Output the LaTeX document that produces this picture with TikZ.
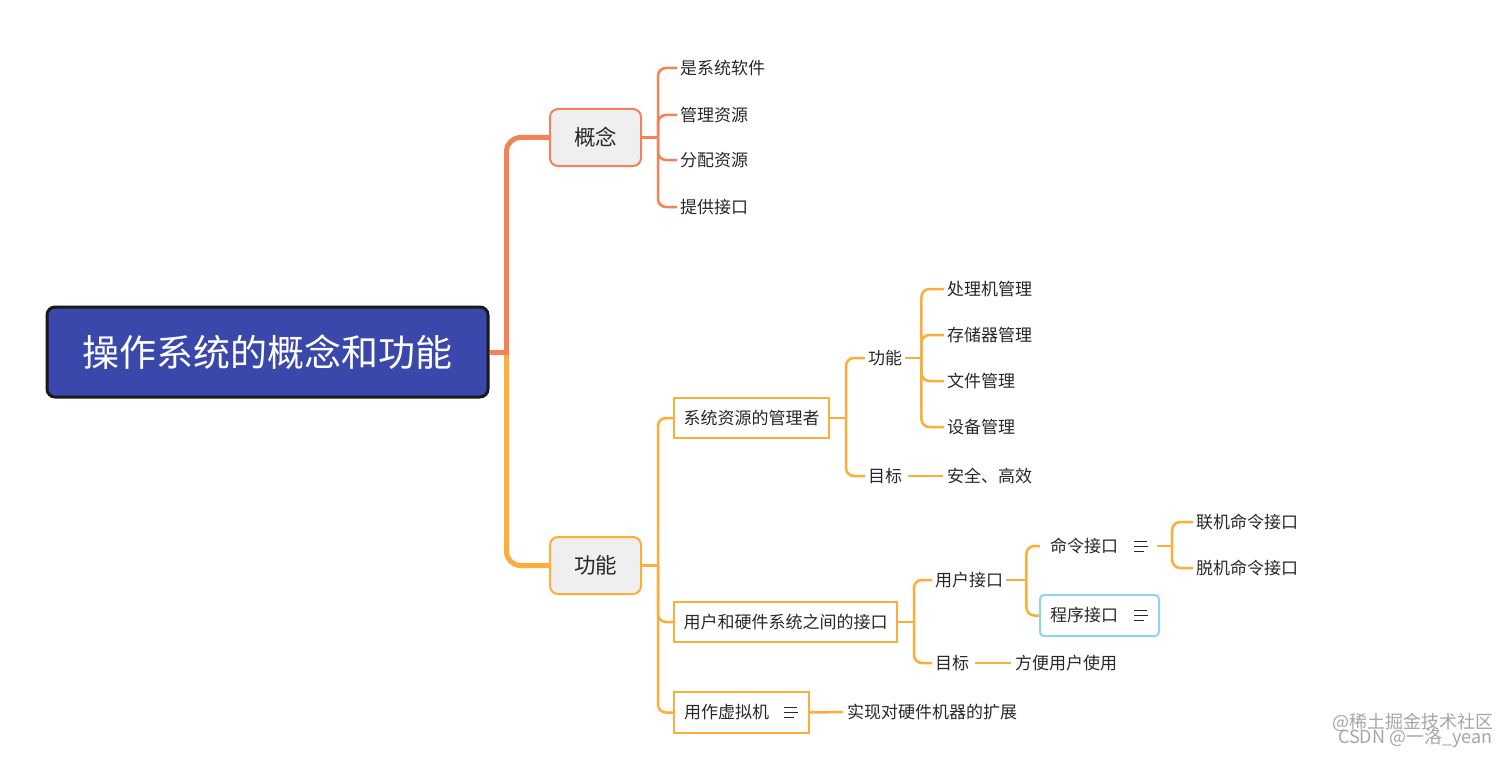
\documentclass[tikz,border=0pt]{standalone}
\usepackage{fontspec}
\setmainfont{Noto Sans CJK SC}
\definecolor{coral}{RGB}{244,129,88}
\definecolor{amber}{RGB}{252,173,58}
\definecolor{rootblue}{RGB}{57,72,170}
\definecolor{boxgray}{RGB}{239,239,239}
\definecolor{skyline}{RGB}{143,212,245}
\definecolor{ink}{RGB}{40,40,40}
\tikzset{
 rootbox/.style={draw=black!90, line width=3pt, fill=rootblue, rounded corners=8pt, text=white, minimum width=441pt, minimum height=90pt, inner sep=0pt, font=\fontsize{37}{42}\selectfont},
 mainbox/.style={fill=boxgray, line width=2pt, rounded corners=8pt, minimum width=91pt, minimum height=57pt, inner sep=0pt, text=ink, font=\fontsize{21.5}{24}\selectfont},
 subbox/.style={draw=amber, fill=white, line width=2pt, minimum height=40pt, inner sep=0pt, text=ink, font=\fontsize{17}{20}\selectfont},
 leaf/.style={anchor=west, inner sep=3pt, text=ink, font=\fontsize{17}{20}\selectfont},
 cline/.style={coral, line width=2.5pt, rounded corners=8pt},
 aline/.style={amber, line width=2.5pt, rounded corners=8pt},
 trunk/.style={line width=5pt, rounded corners=14pt},
 iconline/.style={line width=1.2pt, ink},
 watermark/.style={anchor=west, inner sep=0pt, text=black!35, font=\fontsize{18}{20}\selectfont},
 pics/menuicon/.style={code={\draw[iconline] (0,-5)--(13,-5) (0,0)--(14,0) (0,5)--(10,5);}},
}
\begin{document}
\begin{tikzpicture}[x=1pt,y=-1pt]
\useasboundingbox (0,0) rectangle (1512,757);
\fill[white] (0,0) rectangle (1512,757);

% nodes
\node[rootbox] (root) at (267.5,352) {操作系统的概念和功能};
\node[mainbox, draw=coral] (gn) at (595.5,137.5) {概念};
\node[mainbox, draw=amber] (fn) at (595.5,565.5) {功能};

\node[leaf] (c1) at (677,68) {是系统软件};
\node[leaf] (c2) at (677,115) {管理资源};
\node[leaf] (c3) at (677,160) {分配资源};
\node[leaf] (c4) at (677,207) {提供接口};

\node[subbox, minimum width=155pt] (mgr) at (751.5,418) {系统资源的管理者};
\node[subbox, minimum width=223pt] (itf) at (785.5,622) {用户和硬件系统之间的接口};
\node[subbox, minimum width=135pt, minimum height=41pt, text width=115pt, align=left] (vm) at (741.5,712.5) {用作虚拟机};
\pic at (784,712.5) {menuicon};

\node[leaf] (mf) at (865,358) {功能};
\node[leaf] (mg) at (865,476) {目标};
\node[leaf] (p1) at (944,289) {处理机管理};
\node[leaf] (p2) at (944,335) {存储器管理};
\node[leaf] (p3) at (944,381) {文件管理};
\node[leaf] (p4) at (944,427) {设备管理};
\node[leaf] (sf) at (944,476) {安全、高效};

\node[leaf] (ui) at (932,580) {用户接口};
\node[leaf] (ug) at (932,663) {目标};
\node[leaf] (uc) at (1012,663) {方便用户使用};

\node[minimum width=119pt, minimum height=41pt, inner sep=0pt, text width=99pt, align=left, text=ink, font=\fontsize{17}{20}\selectfont] (cmd) at (1099.5,546) {命令接口};
\pic at (1134,546.5) {menuicon};
\node[draw=skyline, line width=2pt, rounded corners=4pt, fill=white, minimum width=119pt, minimum height=41pt, inner sep=0pt, text width=99pt, align=left, text=ink, font=\fontsize{17}{20}\selectfont] (prg) at (1099.5,615.5) {程序接口};
\pic at (1134,615.5) {menuicon};

\node[leaf] (k1) at (1193,522) {联机命令接口};
\node[leaf] (k2) at (1193,568) {脱机命令接口};

\node[leaf] (ext) at (844,712) {实现对硬件机器的扩展};

\node[watermark] (wm1) at (1332,722) {@稀土掘金技术社区};
\node[watermark] (wm2) at (1338,738) {CSDN @一洛\_yean};

% trunk
\coordinate (j0) at ([xshift=17pt]root.east);
\draw[trunk, amber] (j0) |- (fn.west);
\draw[trunk, coral] (j0) |- (gn.west);
\draw[line width=5pt, coral] (root.east) -- ([xshift=2.5pt]j0);

% concept bracket
\coordinate (jg) at ([xshift=16pt]gn.east);
\draw[cline] (gn.east) -- (jg);
\foreach \c in {c1,c2,c3,c4} \draw[cline] (jg) |- (\c.west);

% function bracket
\coordinate (jf) at ([xshift=16pt]fn.east);
\draw[aline] (fn.east) -- (jf);
\foreach \c in {mgr,itf,vm} \draw[aline] (jf) |- (\c.west);

% manager
\coordinate (jm) at ([xshift=16pt]mgr.east);
\draw[aline] (mgr.east) -- (jm);
\foreach \c in {mf,mg} \draw[aline] (jm) |- (\c.west);
\coordinate (jmf) at ([xshift=16pt]mf.east);
\draw[aline] (mf.east) -- (jmf);
\foreach \c in {p1,p2,p3,p4} \draw[aline] (jmf) |- (\c.west);
\draw[aline] ([xshift=3pt]mg.east) -- ([xshift=-1pt]sf.west);

% interface
\coordinate (ji) at ([xshift=16pt]itf.east);
\draw[aline] (itf.east) -- (ji);
\foreach \c in {ui,ug} \draw[aline] (ji) |- (\c.west);
\coordinate (ju) at ([xshift=20pt]ui.east);
\draw[aline] (ui.east) -- (ju);
\foreach \c in {cmd,prg} \draw[aline] (ju) |- (\c.west);
\coordinate (jc) at ([xshift=13pt]cmd.east);
\draw[aline] ([xshift=-2pt]cmd.east) -- (jc);
\foreach \c in {k1,k2} \draw[aline] (jc) |- (\c.west);
\draw[aline] ([xshift=3pt]ug.east) -- ([xshift=-1pt]uc.west);

% virtual machine
\draw[aline] (vm.east) -- ([xshift=-1pt]ext.west);
\end{tikzpicture}
\end{document}
